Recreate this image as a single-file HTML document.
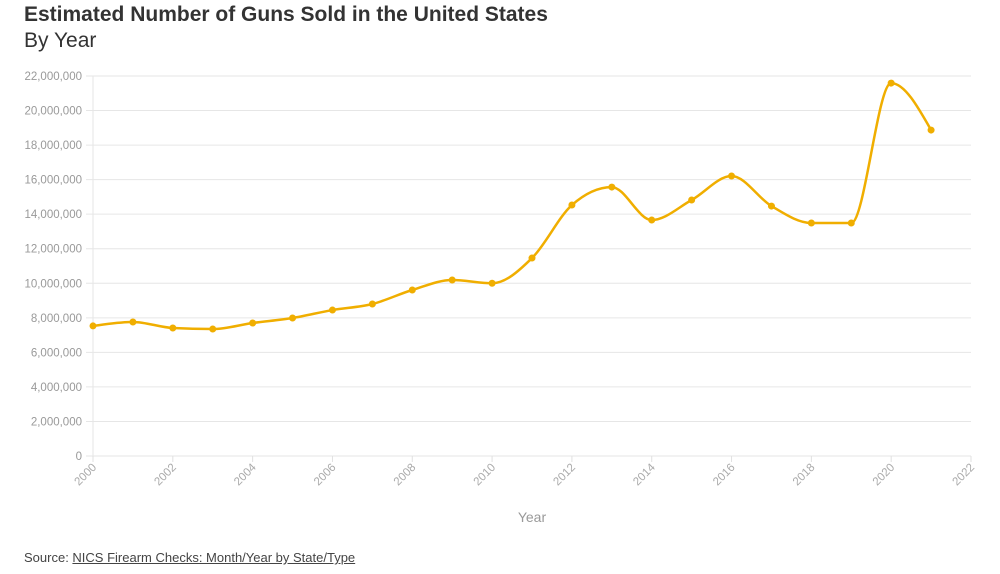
<!DOCTYPE html>
<html><head><meta charset="utf-8"><style>
body{margin:0;background:#fff;width:1000px;height:574px;overflow:hidden;font-family:"Liberation Sans",sans-serif}
#title{position:absolute;left:24px;top:3px;font-size:21px;font-weight:bold;color:#333}
#sub{position:absolute;left:24px;top:29px;font-size:21px;color:#333}
#src{position:absolute;left:24px;top:550px;font-size:13px;color:#444}
#src a{color:#444;text-decoration:underline}
svg{position:absolute;left:0;top:0}
</style></head><body>
<div id="title">Estimated Number of Guns Sold in the United States</div>
<div id="sub">By Year</div>
<svg id="c" width="1000" height="574"></svg>
<div id="src">Source: <a>NICS Firearm Checks: Month/Year by State/Type</a></div>
<script>
const years=[2000,2001,2002,2003,2004,2005,2006,2007,2008,2009,2010,2011,2012,2013,2014,2015,2016,2017,2018,2019,2020,2021];
const values=[7530000,7760000,7410000,7350000,7700000,7990000,8450000,8800000,9610000,10190000,10000000,11460000,14530000,15570000,13660000,14820000,16210000,14470000,13490000,13490000,21590000,18870000];
const yTicks=[0,2000000,4000000,6000000,8000000,10000000,12000000,14000000,16000000,18000000,20000000,22000000];
const xTicks=[2000,2002,2004,2006,2008,2010,2012,2014,2016,2018,2020,2022];
const NS='http://www.w3.org/2000/svg',svg=document.getElementById('c');
const X=v=>93+(v-2000)*(971-93)/22, Y=v=>456-v*(456-76)/22000000;
function mk(t,a){const e=document.createElementNS(NS,t);for(const k in a)e.setAttribute(k,a[k]);svg.appendChild(e);return e;}
yTicks.forEach(t=>{
 const l=mk('line',{x1:86,x2:971,y1:Y(t),y2:Y(t),stroke:'#e6e6e6','stroke-width':1});
 
 
 const tx=mk('text',{x:82,y:Y(t)+4,'text-anchor':'end','font-size':11.5,fill:'#999'});
 tx.textContent=t.toLocaleString('en-US');
 
 
});
const ya=mk('line',{x1:93,x2:93,y1:76,y2:456,stroke:'#e6e6e6'});


xTicks.forEach(t=>{
 const l=mk('line',{x1:X(t),x2:X(t),y1:456,y2:462,stroke:'#e0e0e0'});
 
 
 const tx=mk('text',{x:X(t)+4,y:468,'text-anchor':'end','font-size':11.5,fill:'#aaa',transform:`rotate(-45 ${X(t)+4} 468)`});
 tx.textContent=t;
 
 
});
const xt=mk('text',{x:532,y:522,'text-anchor':'middle','font-size':14,fill:'#999'});
xt.textContent='Year';


const px=years.map(X),py=values.map(Y),n=px.length;
const m=[],d=[];
for(let i=0;i<n-1;i++)d.push((py[i+1]-py[i])/(px[i+1]-px[i]));
for(let i=1;i<n-1;i++){const h0=px[i]-px[i-1],h1=px[i+1]-px[i],s0=d[i-1],s1=d[i],p=(s0*h1+s1*h0)/(h0+h1);
 m[i]=(Math.sign(s0)+Math.sign(s1))*Math.min(Math.abs(s0),Math.abs(s1),0.5*Math.abs(p))||0;}
m[0]=(3*d[0]-m[1])/2;m[n-1]=(3*d[n-2]-m[n-2])/2;
let p=`M${px[0]},${py[0]}`;
for(let i=0;i<n-1;i++){const h=(px[i+1]-px[i])/3;p+=`C${px[i]+h},${py[i]+h*m[i]} ${px[i+1]-h},${py[i+1]-h*m[i+1]} ${px[i+1]},${py[i+1]}`;}
const line=mk('path',{d:p,fill:'none',stroke:'#f0ae00','stroke-width':2.5});


for(let i=0;i<n;i++){const c=mk('circle',{cx:px[i],cy:py[i],r:3.5,fill:'#f0ae00'});
 
 }
</script>
</body></html>
